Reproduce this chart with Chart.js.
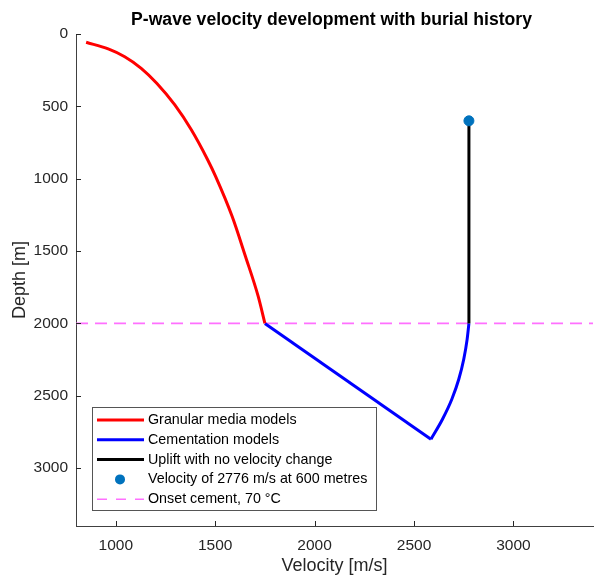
<!DOCTYPE html>
<html lang="en">
<head>
<meta charset="UTF-8">
<title>P-wave velocity development</title>
<script src="https://cdn.jsdelivr.net/npm/chart.js@4.4.0/dist/chart.umd.min.js"></script>
<style>
  body { margin: 0; overflow: hidden; background: #fff; }
  canvas { display: block; }
</style>
</head>
<body>
<canvas id="vpChart" width="599" height="577"></canvas>
<script>
// granular media model, surface down to onset of cementation
const granVel   = [851, 962, 1045, 1128, 1206, 1297, 1380, 1462, 1502, 1585, 1652, 1716, 1750];
const granDepth = [57, 103, 157, 237, 340, 490, 662, 869, 984, 1260, 1536, 1812, 2000];

// cementation: burial to max depth, then uplift back to 2000 m
const cemBurialVel   = [1750, 2585];
const cemBurialDepth = [2000, 2800];
const cemUpliftVel   = [2585, 2643, 2690, 2725, 2750, 2767, 2776];
const cemUpliftDepth = [2800, 2662, 2524, 2386, 2248, 2110, 2000];

// uplift above 2000 m keeps the velocity
const upliftVel   = [2776, 2776];
const upliftDepth = [2000, 600];

// present-day value
const obsVel   = [2776];
const obsDepth = [600];

const onsetDepth = 2000;
const xLimits = [800, 3400];
const yLimits = [0, 3400];
const xTicks = [1000, 1500, 2000, 2500, 3000];
const yTicks = [0, 500, 1000, 1500, 2000, 2500, 3000];

const FONT = '"Liberation Sans", Arial, Helvetica, sans-serif';
const INK = '#262626';

const pts = (xs, ys) => xs.map((x, i) => ({ x: x, y: ys[i] }));

// ticks drawn inward, matlab style
const innerTicks = {
  id: 'innerTicks',
  afterDraw(chart) {
    const { ctx, chartArea: a, scales: { x, y } } = chart;
    ctx.save();
    ctx.strokeStyle = INK;
    ctx.lineWidth = 1;
    ctx.beginPath();
    xTicks.forEach(v => {
      const px = Math.round(x.getPixelForValue(v)) + 0.5;
      ctx.moveTo(px, a.bottom);
      ctx.lineTo(px, a.bottom - 5);
    });
    yTicks.forEach(v => {
      const py = Math.round(y.getPixelForValue(v)) + 0.5;
      ctx.moveTo(a.left, py);
      ctx.lineTo(a.left + 5, py);
    });
    ctx.stroke();
    ctx.restore();
  }
};

const plotTitle = {
  id: 'plotTitle',
  afterDraw(chart) {
    const { ctx, chartArea: a } = chart;
    ctx.save();
    ctx.fillStyle = '#000';
    ctx.font = 'bold 17.6px ' + FONT;
    ctx.textAlign = 'center';
    ctx.textBaseline = 'middle';
    ctx.fillText('P-wave velocity development with burial history', (a.left + a.right) / 2 - 3, 20);
    ctx.restore();
  }
};

// boxed legend in the lower left corner of the axes
const boxLegend = {
  id: 'boxLegend',
  afterDraw(chart) {
    const { ctx, chartArea: a } = chart;
    const items = chart.data.datasets.filter(d => d.label);
    const rowH = 19.8;
    const w = 284, h = items.length * rowH + 4;
    const left = a.left + 16, top = a.bottom - 16 - h;
    ctx.save();
    ctx.fillStyle = '#fff';
    ctx.fillRect(left, top, w, h);
    ctx.strokeStyle = '#555';
    ctx.lineWidth = 1;
    ctx.strokeRect(Math.round(left) + 0.5, Math.round(top) + 0.5, w, h);
    ctx.font = '14.3px ' + FONT;
    ctx.textBaseline = 'middle';
    items.forEach((d, i) => {
      const cy = top + 13 + i * rowH;
      if (d.pointRadius > 0) {
        ctx.fillStyle = d.backgroundColor;
        ctx.beginPath();
        ctx.arc(left + 28, cy, d.pointRadius, 0, Math.PI * 2);
        ctx.fill();
      } else {
        ctx.strokeStyle = d.borderColor;
        ctx.lineWidth = d.borderWidth;
        ctx.setLineDash(d.borderDash ? [10, 9] : []);
        ctx.beginPath();
        ctx.moveTo(left + 5, cy);
        ctx.lineTo(left + 52, cy);
        ctx.stroke();
        ctx.setLineDash([]);
      }
      ctx.fillStyle = '#000';
      ctx.fillText(d.label, left + 56, cy);
    });
    ctx.restore();
  }
};

const lineSet = (label, data, color, width, extra) => Object.assign({
  label: label,
  data: data,
  showLine: true,
  borderColor: color,
  backgroundColor: color,
  borderWidth: width,
  pointRadius: 0,
  tension: 0
}, extra || {});

const curve = { cubicInterpolationMode: 'monotone', order: 2 };

new Chart(document.getElementById('vpChart'), {
  type: 'scatter',
  data: {
    datasets: [
      lineSet('Granular media models', pts(granVel, granDepth), '#ff0000', 3, curve),
      lineSet('Cementation models', pts(cemBurialVel, cemBurialDepth), '#0000ff', 3, { order: 2 }),
      lineSet('Uplift with no velocity change', pts(upliftVel, upliftDepth), '#000000', 3, { order: 1 }),
      {
        label: 'Velocity of 2776 m/s at 600 metres',
        data: pts(obsVel, obsDepth),
        backgroundColor: '#0072bd',
        borderColor: '#0072bd',
        pointRadius: 5,
        order: 0
      },
      lineSet('Onset cement, 70 °C', pts(xLimits, [onsetDepth, onsetDepth]), '#ff70ff', 1.6,
        { borderDash: [12, 7], order: 5 }),
      lineSet('', pts(cemUpliftVel, cemUpliftDepth), '#0000ff', 3, curve)
    ]
  },
  options: {
    responsive: false,
    animation: false,
    layout: { padding: { top: 34, left: 0, right: 0, bottom: 0 } },
    plugins: {
      legend: { display: false },
      tooltip: { enabled: false }
    },
    scales: {
      x: {
        type: 'linear',
        min: xLimits[0],
        max: xLimits[1],
        afterBuildTicks: s => { s.ticks = xTicks.map(v => ({ value: v })); },
        afterFit: s => { s.height = 51; },
        grid: { display: false, drawTicks: false },
        border: { display: true, color: '#404040', width: 1 },
        ticks: { color: INK, font: { family: FONT, size: 15.5 }, padding: 10, maxRotation: 0, callback: v => String(v) },
        title: { display: true, text: 'Velocity [m/s]', color: INK, font: { family: FONT, size: 18 }, padding: { top: 0, bottom: 0 } }
      },
      y: {
        type: 'linear',
        reverse: true,
        min: yLimits[0],
        max: yLimits[1],
        afterBuildTicks: s => { s.ticks = yTicks.map(v => ({ value: v })); },
        afterFit: s => { s.width = 76; },
        grid: { display: false, drawTicks: false },
        border: { display: true, color: '#404040', width: 1 },
        ticks: { color: INK, font: { family: FONT, size: 15.5 }, padding: 8, callback: v => String(v) },
        title: { display: true, text: 'Depth [m]', color: INK, font: { family: FONT, size: 18 }, padding: { top: 9, bottom: 0 } }
      }
    }
  },
  plugins: [innerTicks, plotTitle, boxLegend]
});
</script>
</body>
</html>
